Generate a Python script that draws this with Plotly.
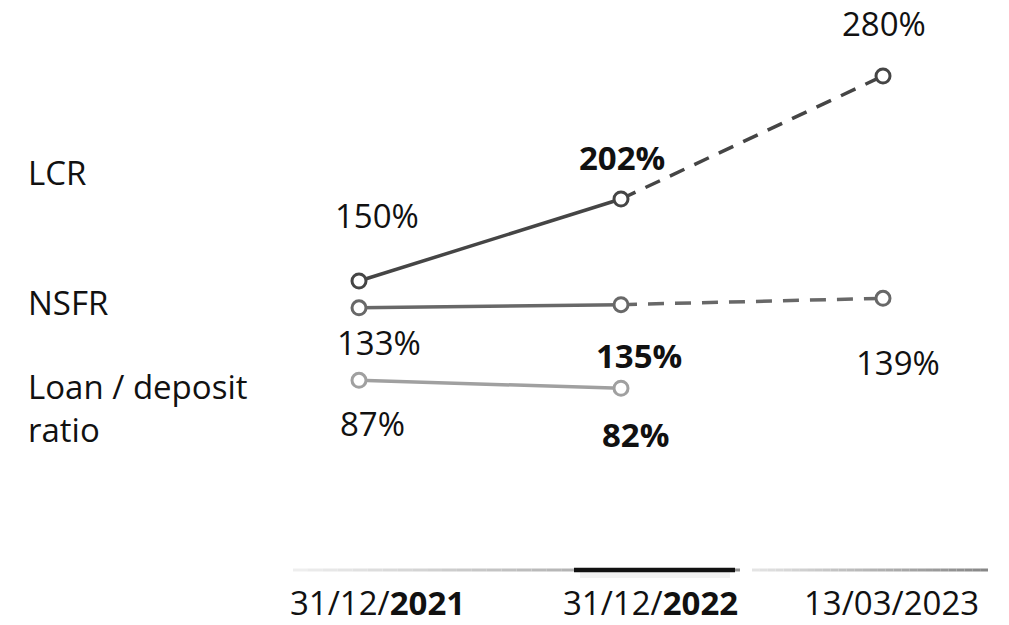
import plotly.graph_objects as go

dates = ["31/12/<b>2021</b>", "31/12/<b>2022</b>", "13/03/2023"]
series_names = ["LCR", "NSFR", "Loan / deposit<br>ratio"]
lcr = [150, 202, 280]
nsfr = [133, 135, 139]
loan_dep = [87, 82]

colors = ["#454545", "#686868", "#a0a0a0"]
FONT = "Open Sans"
FS = 33
xs = [0, 1, 2]

fig = go.Figure()

def add_series(vals, color):
    n = len(vals)
    fig.add_trace(go.Scatter(x=xs[:2], y=vals[:2], mode="lines",
                             line=dict(color=color, width=3.5), hoverinfo="skip"))
    if n > 2:
        fig.add_trace(go.Scatter(x=xs[1:n], y=vals[1:n], mode="lines",
                                 line=dict(color=color, width=3.5, dash="16px,11px"),
                                 hoverinfo="skip"))
    fig.add_trace(go.Scatter(x=xs[:n], y=vals, mode="markers",
                             marker=dict(symbol="circle", size=14, color="white",
                                         line=dict(color=color, width=3)),
                             hoverinfo="skip"))

add_series(lcr, colors[0])
add_series(nsfr, colors[1])
add_series(loan_dep, colors[2])

def lab(i, v, yshift, xshift=0, bold=False):
    t = f"{v}%"
    if bold:
        t = f"<b>{t}</b>"
    fig.add_annotation(x=xs[i], y=v, text=t, showarrow=False, yshift=yshift,
                       xshift=xshift, font=dict(family=FONT, size=FS, color="#111"))

lab(0, lcr[0], 65.5, 17.5)
lab(1, lcr[1], 41.5, 1, True)
lab(2, lcr[2], 52.5, 1)
lab(0, nsfr[0], -34.5, 20)
lab(1, nsfr[1], -51, 17.5, True)
lab(2, nsfr[2], -64.5, 14.5)
lab(0, loan_dep[0], -43.5, 13.5)
lab(1, loan_dep[1], -46, 14, True)

for name, yv in zip(series_names, [172.5, 302.5, 407.5]):
    fig.add_annotation(xref="paper", yref="paper", x=26 / 1009, y=1 - yv / 625,
                       xanchor="left", yanchor="middle", align="left", text=name,
                       showarrow=False, font=dict(family=FONT, size=FS, color="#111"))

def grad_line(x0, x1, c0, c1, n=30, y=570, w=3):
    for k in range(n):
        a = x0 + (x1 - x0) * k / n
        b = x0 + (x1 - x0) * (k + 1) / n
        t = k / (n - 1)
        g = int(c0 + (c1 - c0) * t)
        fig.add_shape(type="line", xref="paper", yref="paper",
                      x0=a / 1009, x1=b / 1009, y0=1 - y / 625, y1=1 - y / 625,
                      line=dict(color=f"rgb({g},{g},{g})", width=w))

grad_line(293, 740, 238, 145)
grad_line(752, 988, 228, 135)
fig.add_shape(type="line", xref="paper", yref="paper",
              x0=580 / 1009, x1=730 / 1009, y0=1 - 575 / 625, y1=1 - 575 / 625,
              line=dict(color="rgba(0,0,0,0.05)", width=6))
fig.add_shape(type="line", xref="paper", yref="paper",
              x0=574 / 1009, x1=735 / 1009, y0=1 - 570 / 625, y1=1 - 570 / 625,
              line=dict(color="#111", width=4.5))

fig.update_layout(
    width=1009, height=625,
    margin=dict(l=0, r=0, t=0, b=0),
    paper_bgcolor="white", plot_bgcolor="white",
    showlegend=False,
    xaxis=dict(range=[-359 / 262, (1009 - 359) / 262], showgrid=False, zeroline=False,
               showticklabels=False, fixedrange=True),
    yaxis=dict(range=[150 - (625 - 281) / 1.577, 150 + 281 / 1.577], showgrid=False,
               zeroline=False, showticklabels=False, fixedrange=True),
)

for i, (d, dx) in enumerate(zip(dates, [18, 29, 8])):
    fig.add_annotation(x=xs[i], yref="paper", y=1 - 602 / 625, yanchor="middle",
                       text=d, showarrow=False, xshift=dx,
                       font=dict(family=FONT, size=FS, color="#111"))

fig.write_html("out.html")
